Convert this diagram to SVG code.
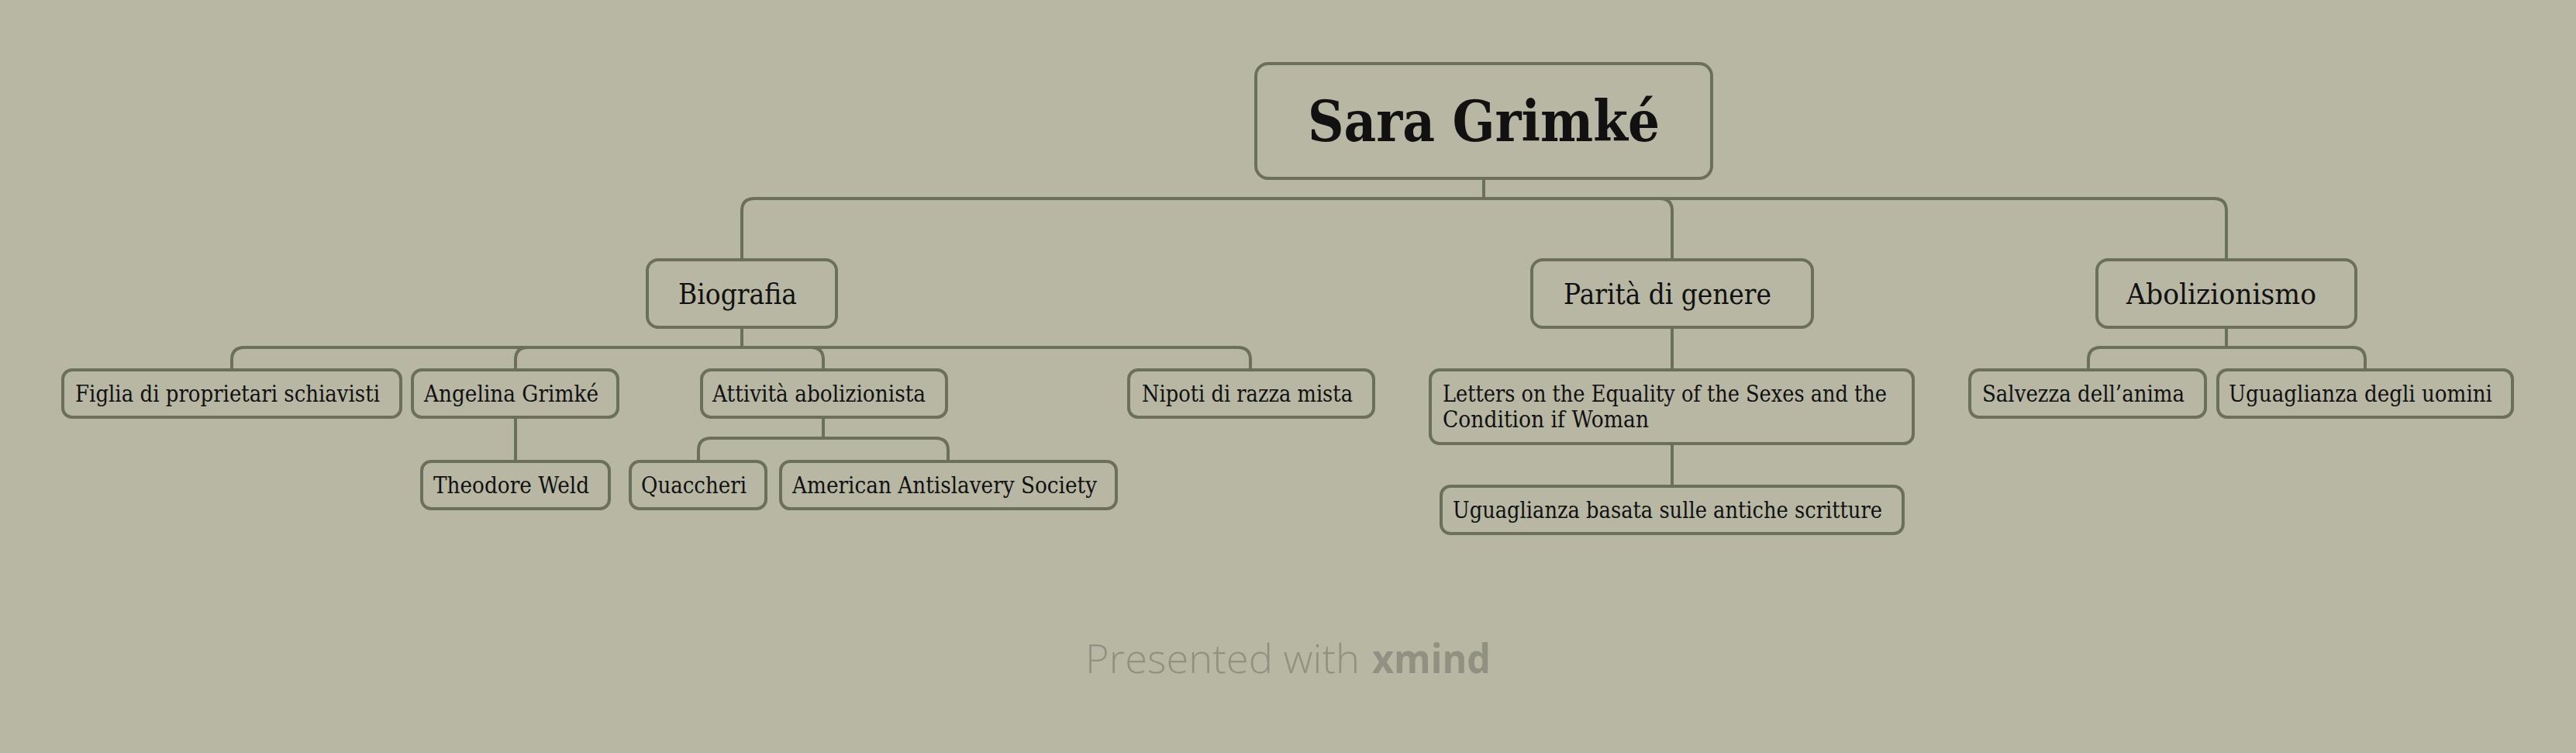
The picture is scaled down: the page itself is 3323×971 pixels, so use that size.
<svg xmlns="http://www.w3.org/2000/svg" width="3323" height="971" viewBox="0 0 3323 971">
<style>
.bg{fill:#b7b7a4}
.box{fill:#b7b7a4;stroke:#6b705c;stroke-width:4}
.conn{fill:none;stroke:#6b705c;stroke-width:4}
.t{font-family:"DejaVu Serif","Liberation Serif",serif;fill:#111111}
.t0{font-size:72px;font-weight:bold}
.t1{font-size:37px}
.t2{font-size:30px}
.foot{font-family:"Open Sans","Lato","Liberation Sans",sans-serif;font-size:52px;fill:#909182;font-weight:300}
</style>
<rect class="bg" x="0" y="0" width="3323" height="971"/>
<g id="connectors">
<path class="conn" d="M1914,230 V256 H973 Q957,256 957,272 V335"/>
<path class="conn" d="M1914,256 H2141 Q2157,256 2157,272 V335"/>
<path class="conn" d="M1914,256 H2856 Q2872,256 2872,272 V335"/>
<path class="conn" d="M957,422 V448 H315 Q299,448 299,464 V477"/>
<path class="conn" d="M957,448 H681 Q665,448 665,464 V477"/>
<path class="conn" d="M957,448 H1046 Q1062,448 1062,464 V477"/>
<path class="conn" d="M957,448 H1597 Q1613,448 1613,464 V477"/>
<path class="conn" d="M665,538 V595"/>
<path class="conn" d="M1062,538 V565 H917 Q901,565 901,581 V595"/>
<path class="conn" d="M1062,565 H1207 Q1223,565 1223,581 V595"/>
<path class="conn" d="M2157,422 V477"/>
<path class="conn" d="M2157,572 V627"/>
<path class="conn" d="M2872,422 V448 H2710 Q2694,448 2694,464 V477"/>
<path class="conn" d="M2872,448 H3035 Q3051,448 3051,464 V477"/>
</g>
<g id="root">
<rect class="box" x="1620" y="82" width="588" height="148" rx="16"/>
<text class="t t0" x="1687" y="182" textLength="454" lengthAdjust="spacingAndGlyphs">Sara Grimké</text>
</g>
<g id="biografia">
<rect class="box" x="835" y="335" width="244" height="87" rx="14"/>
<text class="t t1" x="875" y="392" textLength="153" lengthAdjust="spacingAndGlyphs">Biografia</text>
</g>
<g id="parita">
<rect class="box" x="1976" y="335" width="362" height="87" rx="14"/>
<text class="t t1" x="2017" y="392" textLength="268" lengthAdjust="spacingAndGlyphs">Parità di genere</text>
</g>
<g id="abolizionismo">
<rect class="box" x="2705" y="335" width="334" height="87" rx="14"/>
<text class="t t1" x="2743" y="392" textLength="245" lengthAdjust="spacingAndGlyphs">Abolizionismo</text>
</g>
<g id="figlia">
<rect class="box" x="81" y="477" width="436" height="61" rx="12"/>
<text class="t t2" x="97" y="518" textLength="393" lengthAdjust="spacingAndGlyphs">Figlia di proprietari schiavisti</text>
</g>
<g id="angelina">
<rect class="box" x="532" y="477" width="265" height="61" rx="12"/>
<text class="t t2" x="547" y="518" textLength="225" lengthAdjust="spacingAndGlyphs">Angelina Grimké</text>
</g>
<g id="attivita">
<rect class="box" x="905" y="477" width="316" height="61" rx="12"/>
<text class="t t2" x="919" y="518" textLength="275" lengthAdjust="spacingAndGlyphs">Attività abolizionista</text>
</g>
<g id="nipoti">
<rect class="box" x="1456" y="477" width="316" height="61" rx="12"/>
<text class="t t2" x="1473" y="518" textLength="272" lengthAdjust="spacingAndGlyphs">Nipoti di razza mista</text>
</g>
<g id="theodore">
<rect class="box" x="544" y="595" width="242" height="61" rx="12"/>
<text class="t t2" x="559" y="636" textLength="201" lengthAdjust="spacingAndGlyphs">Theodore Weld</text>
</g>
<g id="quaccheri">
<rect class="box" x="813" y="595" width="175" height="61" rx="12"/>
<text class="t t2" x="827" y="636" textLength="136" lengthAdjust="spacingAndGlyphs">Quaccheri</text>
</g>
<g id="american">
<rect class="box" x="1007" y="595" width="433" height="61" rx="12"/>
<text class="t t2" x="1022" y="636" textLength="393" lengthAdjust="spacingAndGlyphs">American Antislavery Society</text>
</g>
<g id="letters">
<rect class="box" x="1845" y="477" width="623" height="95" rx="12"/>
<text class="t t2" x="1861" y="518" textLength="573" lengthAdjust="spacingAndGlyphs">Letters on the Equality of the Sexes and the</text>
<text class="t t2" x="1861" y="551" textLength="266" lengthAdjust="spacingAndGlyphs">Condition if Woman</text>
</g>
<g id="uguaglianza-basata">
<rect class="box" x="1859" y="627" width="596" height="61" rx="12"/>
<text class="t t2" x="1874" y="668" textLength="554" lengthAdjust="spacingAndGlyphs">Uguaglianza basata sulle antiche scritture</text>
</g>
<g id="salvezza">
<rect class="box" x="2541" y="477" width="304" height="61" rx="12"/>
<text class="t t2" x="2557" y="518" textLength="261" lengthAdjust="spacingAndGlyphs">Salvezza dell’anima</text>
</g>
<g id="uguaglianza-uomini">
<rect class="box" x="2861" y="477" width="380" height="61" rx="12"/>
<text class="t t2" x="2875" y="518" textLength="340" lengthAdjust="spacingAndGlyphs">Uguaglianza degli uomini</text>
</g>
<g id="footer">
<text class="foot" x="1400" y="868"><tspan textLength="354" lengthAdjust="spacingAndGlyphs">Presented with</tspan><tspan x="1770" font-weight="bold" textLength="153" lengthAdjust="spacingAndGlyphs">xmind</tspan></text>
</g>
</svg>
